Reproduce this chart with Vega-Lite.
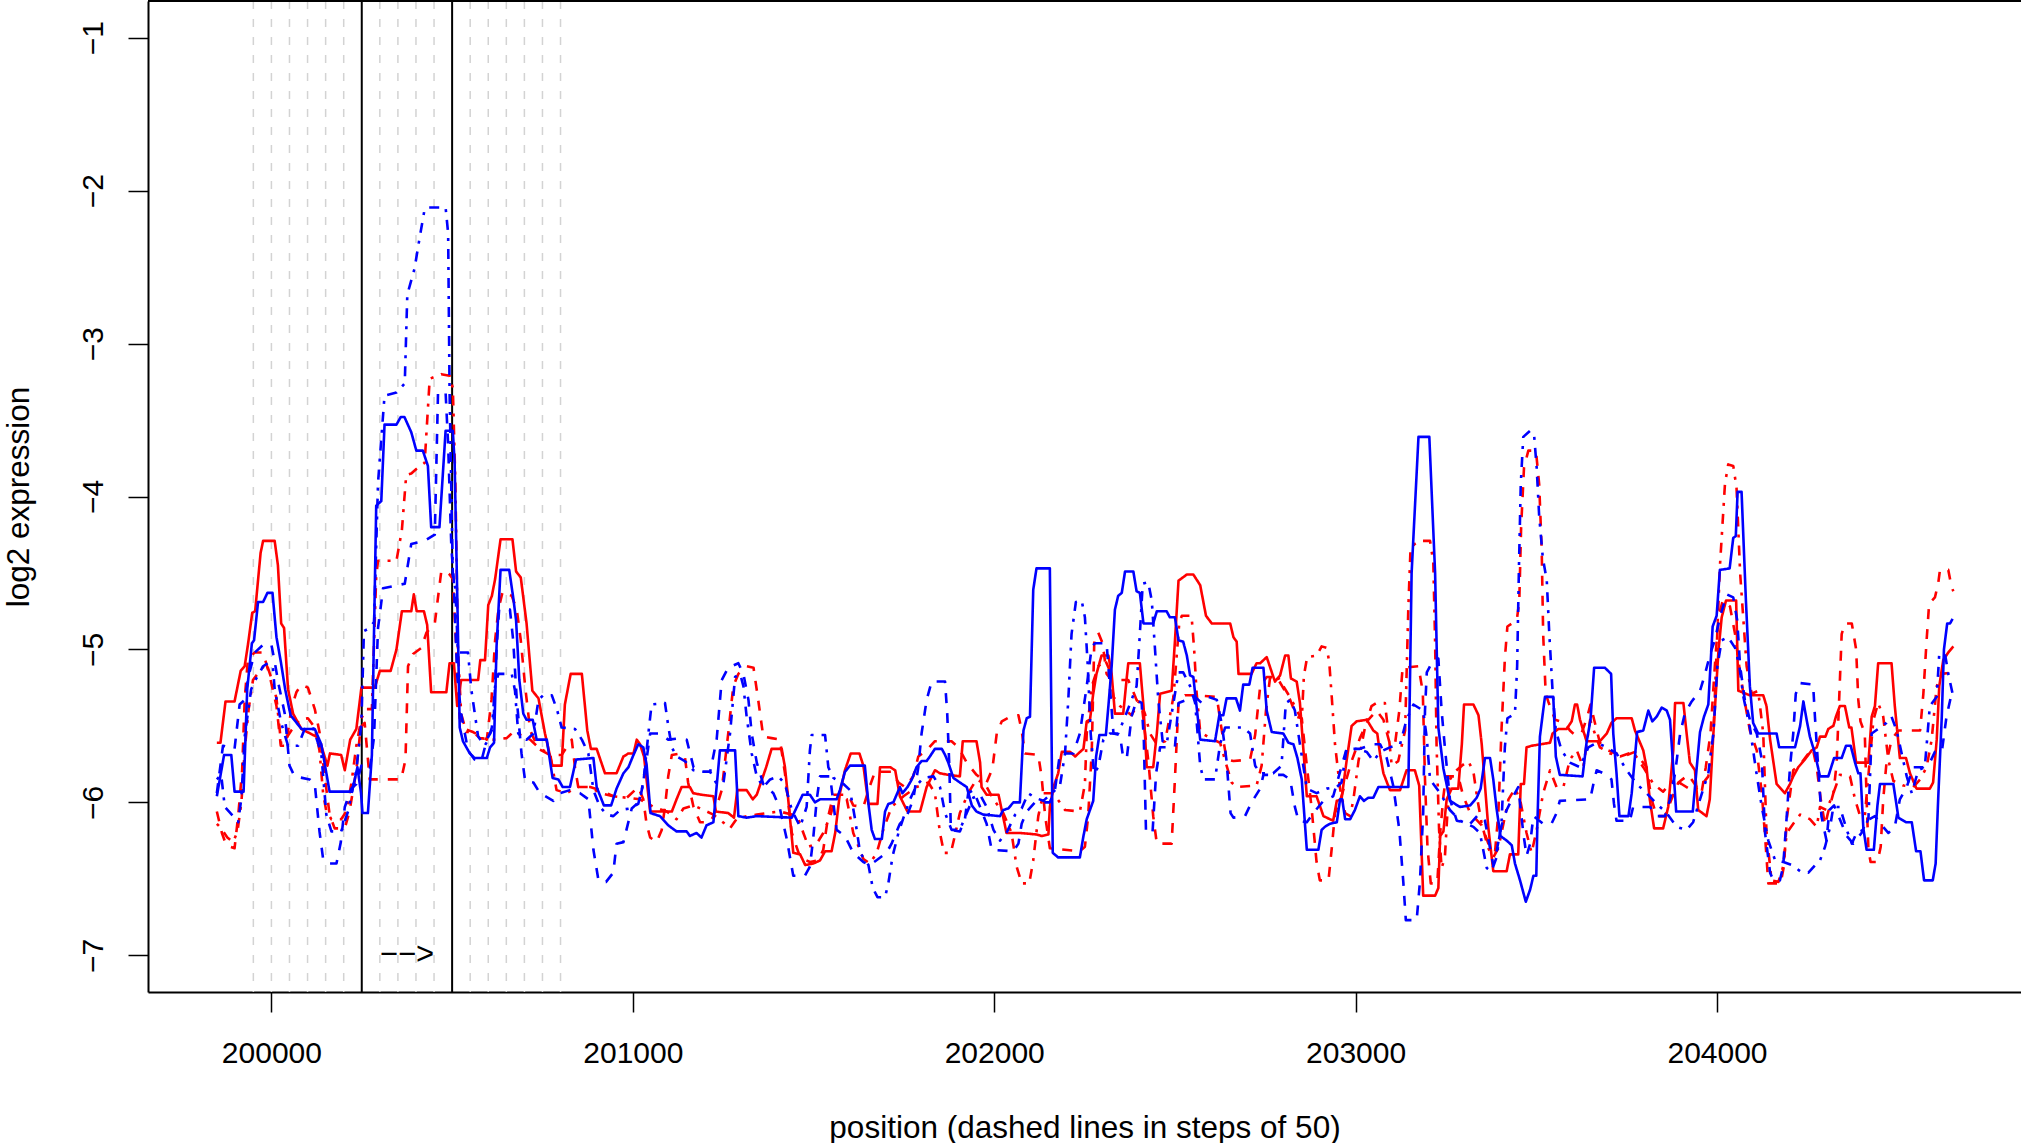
{
"$schema":"https://vega.github.io/schema/vega-lite/v6.json",
"width":1873,"height":991,
"autosize":{"type":"none"},
"padding":{"left":148,"top":1,"right":0,"bottom":151},
"background":"white",
"config":{"view":{"stroke":null},"font":"Liberation Sans",
"axis":{"grid":false,"tickSize":20,"tickWidth":1.5,"tickColor":"black","domainColor":"black","domainWidth":2,"labelFontSize":30,"labelColor":"black","labelFont":"Liberation Sans","labelFlush":false,"labelOverlap":false,"titleFontSize":31.5,"titleFontWeight":"normal","titleColor":"black","titleFont":"Liberation Sans"},
"axisX":{"labelBaseline":"alphabetic","labelPadding":50,"titleBaseline":"alphabetic","titleY":145},
"axisY":{"labelAngle":270,"labelAlign":"center","labelBaseline":"alphabetic","labelPadding":26,"titleBaseline":"alphabetic","titleAngle":270,"titleX":-120,"titleY":495.5}},
"layer":[
{"data":{"values":[{"x":199950},{"x":200000},{"x":200050},{"x":200100},{"x":200150},{"x":200200},{"x":200300},{"x":200350},{"x":200400},{"x":200450},{"x":200550},{"x":200600},{"x":200650},{"x":200700},{"x":200750},{"x":200800}]},
"mark":{"type":"rule","color":"#d3d3d3","strokeWidth":1.5,"strokeDash":[8,10]},
"encoding":{"x":{"field":"x","type":"quantitative","scale":{"domain":[199658.5,204841.2],"nice":false,"zero":false},"axis":{"values":[200000,201000,202000,203000,204000],"format":"d","title":"position (dashed lines in steps of 50)"}}}},
{"data":{"values":[{"x":200250},{"x":200500}]},
"mark":{"type":"rule","color":"black","strokeWidth":2},
"encoding":{"x":{"field":"x","type":"quantitative","scale":{"domain":[199658.5,204841.2],"nice":false,"zero":false},"axis":{"values":[200000,201000,202000,203000,204000],"format":"d","title":"position (dashed lines in steps of 50)"}}}},
{"data":{"values":[
{"s":"r1","x":199849,"y":-5.61},{"s":"r1","x":199859,"y":-5.61},{"s":"r1","x":199873,"y":-5.34},{"s":"r1","x":199898,"y":-5.34},{"s":"r1","x":199915,"y":-5.14},{"s":"r1","x":199926,"y":-5.11},{"s":"r1","x":199935,"y":-4.97},{"s":"r1","x":199947,"y":-4.76},{"s":"r1","x":199955,"y":-4.75},{"s":"r1","x":199970,"y":-4.37},{"s":"r1","x":199977,"y":-4.29},{"s":"r1","x":200009,"y":-4.29},{"s":"r1","x":200018,"y":-4.45},{"s":"r1","x":200027,"y":-4.83},{"s":"r1","x":200035,"y":-4.86},{"s":"r1","x":200046,"y":-5.26},{"s":"r1","x":200060,"y":-5.42},{"s":"r1","x":200083,"y":-5.52},{"s":"r1","x":200124,"y":-5.57},{"s":"r1","x":200138,"y":-5.63},{"s":"r1","x":200155,"y":-5.76},{"s":"r1","x":200162,"y":-5.68},{"s":"r1","x":200193,"y":-5.69},{"s":"r1","x":200203,"y":-5.79},{"s":"r1","x":200218,"y":-5.59},{"s":"r1","x":200235,"y":-5.52},{"s":"r1","x":200249,"y":-5.25},{"s":"r1","x":200286,"y":-5.25},{"s":"r1","x":200300,"y":-5.14},{"s":"r1","x":200330,"y":-5.14},{"s":"r1","x":200346,"y":-5.0},{"s":"r1","x":200361,"y":-4.75},{"s":"r1","x":200387,"y":-4.75},{"s":"r1","x":200394,"y":-4.64},{"s":"r1","x":200402,"y":-4.75},{"s":"r1","x":200422,"y":-4.75},{"s":"r1","x":200431,"y":-4.84},{"s":"r1","x":200442,"y":-5.28},{"s":"r1","x":200484,"y":-5.28},{"s":"r1","x":200493,"y":-5.09},{"s":"r1","x":200505,"y":-5.09},{"s":"r1","x":200514,"y":-5.37},{"s":"r1","x":200525,"y":-5.2},{"s":"r1","x":200572,"y":-5.2},{"s":"r1","x":200578,"y":-5.07},{"s":"r1","x":200591,"y":-5.07},{"s":"r1","x":200600,"y":-4.71},{"s":"r1","x":200610,"y":-4.65},{"s":"r1","x":200619,"y":-4.54},{"s":"r1","x":200634,"y":-4.28},{"s":"r1","x":200667,"y":-4.28},{"s":"r1","x":200677,"y":-4.49},{"s":"r1","x":200690,"y":-4.53},{"s":"r1","x":200706,"y":-4.83},{"s":"r1","x":200722,"y":-5.27},{"s":"r1","x":200739,"y":-5.32},{"s":"r1","x":200757,"y":-5.55},{"s":"r1","x":200777,"y":-5.76},{"s":"r1","x":200803,"y":-5.76},{"s":"r1","x":200812,"y":-5.36},{"s":"r1","x":200828,"y":-5.16},{"s":"r1","x":200859,"y":-5.16},{"s":"r1","x":200874,"y":-5.53},{"s":"r1","x":200884,"y":-5.65},{"s":"r1","x":200900,"y":-5.65},{"s":"r1","x":200923,"y":-5.81},{"s":"r1","x":200955,"y":-5.81},{"s":"r1","x":200974,"y":-5.7},{"s":"r1","x":200988,"y":-5.68},{"s":"r1","x":201002,"y":-5.68},{"s":"r1","x":201011,"y":-5.59},{"s":"r1","x":201020,"y":-5.62},{"s":"r1","x":201031,"y":-5.7},{"s":"r1","x":201048,"y":-6.06},{"s":"r1","x":201108,"y":-6.06},{"s":"r1","x":201121,"y":-5.98},{"s":"r1","x":201135,"y":-5.9},{"s":"r1","x":201158,"y":-5.9},{"s":"r1","x":201167,"y":-5.94},{"s":"r1","x":201190,"y":-5.95},{"s":"r1","x":201223,"y":-5.96},{"s":"r1","x":201230,"y":-6.06},{"s":"r1","x":201264,"y":-6.07},{"s":"r1","x":201280,"y":-6.1},{"s":"r1","x":201289,"y":-5.92},{"s":"r1","x":201315,"y":-5.92},{"s":"r1","x":201332,"y":-5.98},{"s":"r1","x":201343,"y":-5.95},{"s":"r1","x":201369,"y":-5.77},{"s":"r1","x":201384,"y":-5.65},{"s":"r1","x":201412,"y":-5.65},{"s":"r1","x":201421,"y":-5.77},{"s":"r1","x":201430,"y":-5.98},{"s":"r1","x":201444,"y":-6.33},{"s":"r1","x":201463,"y":-6.34},{"s":"r1","x":201477,"y":-6.41},{"s":"r1","x":201499,"y":-6.4},{"s":"r1","x":201518,"y":-6.38},{"s":"r1","x":201532,"y":-6.32},{"s":"r1","x":201550,"y":-6.32},{"s":"r1","x":201560,"y":-6.2},{"s":"r1","x":201573,"y":-5.94},{"s":"r1","x":201587,"y":-5.79},{"s":"r1","x":201603,"y":-5.68},{"s":"r1","x":201627,"y":-5.68},{"s":"r1","x":201638,"y":-5.76},{"s":"r1","x":201652,"y":-6.01},{"s":"r1","x":201677,"y":-6.01},{"s":"r1","x":201684,"y":-5.77},{"s":"r1","x":201712,"y":-5.77},{"s":"r1","x":201726,"y":-5.79},{"s":"r1","x":201739,"y":-5.96},{"s":"r1","x":201760,"y":-6.06},{"s":"r1","x":201795,"y":-6.06},{"s":"r1","x":201813,"y":-5.9},{"s":"r1","x":201836,"y":-5.79},{"s":"r1","x":201850,"y":-5.81},{"s":"r1","x":201873,"y":-5.82},{"s":"r1","x":201905,"y":-5.83},{"s":"r1","x":201913,"y":-5.6},{"s":"r1","x":201951,"y":-5.6},{"s":"r1","x":201961,"y":-5.74},{"s":"r1","x":201965,"y":-5.9},{"s":"r1","x":201979,"y":-5.95},{"s":"r1","x":202012,"y":-5.95},{"s":"r1","x":202034,"y":-6.2},{"s":"r1","x":202071,"y":-6.2},{"s":"r1","x":202117,"y":-6.21},{"s":"r1","x":202131,"y":-6.22},{"s":"r1","x":202150,"y":-6.21},{"s":"r1","x":202154,"y":-6.03},{"s":"r1","x":202164,"y":-5.9},{"s":"r1","x":202177,"y":-5.81},{"s":"r1","x":202187,"y":-5.67},{"s":"r1","x":202210,"y":-5.67},{"s":"r1","x":202224,"y":-5.7},{"s":"r1","x":202233,"y":-5.68},{"s":"r1","x":202247,"y":-5.65},{"s":"r1","x":202256,"y":-5.47},{"s":"r1","x":202265,"y":-5.46},{"s":"r1","x":202274,"y":-5.29},{"s":"r1","x":202283,"y":-5.16},{"s":"r1","x":202297,"y":-5.04},{"s":"r1","x":202316,"y":-5.04},{"s":"r1","x":202325,"y":-5.16},{"s":"r1","x":202334,"y":-5.42},{"s":"r1","x":202357,"y":-5.42},{"s":"r1","x":202367,"y":-5.18},{"s":"r1","x":202371,"y":-5.09},{"s":"r1","x":202403,"y":-5.09},{"s":"r1","x":202413,"y":-5.37},{"s":"r1","x":202422,"y":-5.77},{"s":"r1","x":202440,"y":-5.77},{"s":"r1","x":202450,"y":-5.55},{"s":"r1","x":202459,"y":-5.29},{"s":"r1","x":202491,"y":-5.27},{"s":"r1","x":202500,"y":-4.95},{"s":"r1","x":202510,"y":-4.55},{"s":"r1","x":202516,"y":-4.54},{"s":"r1","x":202533,"y":-4.51},{"s":"r1","x":202551,"y":-4.51},{"s":"r1","x":202570,"y":-4.58},{"s":"r1","x":202586,"y":-4.78},{"s":"r1","x":202602,"y":-4.83},{"s":"r1","x":202653,"y":-4.83},{"s":"r1","x":202662,"y":-4.92},{"s":"r1","x":202671,"y":-4.95},{"s":"r1","x":202676,"y":-5.16},{"s":"r1","x":202712,"y":-5.16},{"s":"r1","x":202726,"y":-5.09},{"s":"r1","x":202736,"y":-5.09},{"s":"r1","x":202754,"y":-5.05},{"s":"r1","x":202771,"y":-5.17},{"s":"r1","x":202777,"y":-5.21},{"s":"r1","x":202791,"y":-5.17},{"s":"r1","x":202805,"y":-5.04},{"s":"r1","x":202814,"y":-5.04},{"s":"r1","x":202821,"y":-5.19},{"s":"r1","x":202837,"y":-5.21},{"s":"r1","x":202846,"y":-5.35},{"s":"r1","x":202865,"y":-5.96},{"s":"r1","x":202892,"y":-5.96},{"s":"r1","x":202911,"y":-6.09},{"s":"r1","x":202938,"y":-6.12},{"s":"r1","x":202948,"y":-5.99},{"s":"r1","x":202961,"y":-5.98},{"s":"r1","x":202975,"y":-5.73},{"s":"r1","x":202989,"y":-5.5},{"s":"r1","x":203003,"y":-5.47},{"s":"r1","x":203031,"y":-5.46},{"s":"r1","x":203049,"y":-5.53},{"s":"r1","x":203060,"y":-5.55},{"s":"r1","x":203068,"y":-5.69},{"s":"r1","x":203077,"y":-5.81},{"s":"r1","x":203095,"y":-5.92},{"s":"r1","x":203123,"y":-5.92},{"s":"r1","x":203141,"y":-5.79},{"s":"r1","x":203164,"y":-5.79},{"s":"r1","x":203176,"y":-5.89},{"s":"r1","x":203187,"y":-6.61},{"s":"r1","x":203220,"y":-6.61},{"s":"r1","x":203229,"y":-6.56},{"s":"r1","x":203234,"y":-6.22},{"s":"r1","x":203243,"y":-6.19},{"s":"r1","x":203252,"y":-5.98},{"s":"r1","x":203266,"y":-5.91},{"s":"r1","x":203284,"y":-5.91},{"s":"r1","x":203294,"y":-5.62},{"s":"r1","x":203300,"y":-5.36},{"s":"r1","x":203326,"y":-5.36},{"s":"r1","x":203340,"y":-5.43},{"s":"r1","x":203349,"y":-5.62},{"s":"r1","x":203367,"y":-6.16},{"s":"r1","x":203381,"y":-6.45},{"s":"r1","x":203418,"y":-6.45},{"s":"r1","x":203427,"y":-6.34},{"s":"r1","x":203450,"y":-6.34},{"s":"r1","x":203457,"y":-5.88},{"s":"r1","x":203466,"y":-5.88},{"s":"r1","x":203473,"y":-5.64},{"s":"r1","x":203487,"y":-5.63},{"s":"r1","x":203538,"y":-5.61},{"s":"r1","x":203545,"y":-5.55},{"s":"r1","x":203561,"y":-5.52},{"s":"r1","x":203584,"y":-5.52},{"s":"r1","x":203598,"y":-5.47},{"s":"r1","x":203607,"y":-5.36},{"s":"r1","x":203613,"y":-5.36},{"s":"r1","x":203621,"y":-5.46},{"s":"r1","x":203639,"y":-5.6},{"s":"r1","x":203676,"y":-5.6},{"s":"r1","x":203695,"y":-5.55},{"s":"r1","x":203708,"y":-5.48},{"s":"r1","x":203722,"y":-5.45},{"s":"r1","x":203764,"y":-5.45},{"s":"r1","x":203773,"y":-5.53},{"s":"r1","x":203796,"y":-5.66},{"s":"r1","x":203805,"y":-5.77},{"s":"r1","x":203814,"y":-5.98},{"s":"r1","x":203826,"y":-6.17},{"s":"r1","x":203851,"y":-6.17},{"s":"r1","x":203865,"y":-6.03},{"s":"r1","x":203879,"y":-5.66},{"s":"r1","x":203884,"y":-5.35},{"s":"r1","x":203907,"y":-5.35},{"s":"r1","x":203916,"y":-5.55},{"s":"r1","x":203925,"y":-5.74},{"s":"r1","x":203939,"y":-5.79},{"s":"r1","x":203948,"y":-6.05},{"s":"r1","x":203971,"y":-6.09},{"s":"r1","x":203980,"y":-5.98},{"s":"r1","x":203990,"y":-5.55},{"s":"r1","x":204004,"y":-5.01},{"s":"r1","x":204013,"y":-4.79},{"s":"r1","x":204025,"y":-4.68},{"s":"r1","x":204053,"y":-4.68},{"s":"r1","x":204059,"y":-5.27},{"s":"r1","x":204091,"y":-5.3},{"s":"r1","x":204128,"y":-5.3},{"s":"r1","x":204137,"y":-5.37},{"s":"r1","x":204147,"y":-5.59},{"s":"r1","x":204165,"y":-5.88},{"s":"r1","x":204188,"y":-5.94},{"s":"r1","x":204202,"y":-5.88},{"s":"r1","x":204211,"y":-5.83},{"s":"r1","x":204225,"y":-5.77},{"s":"r1","x":204243,"y":-5.72},{"s":"r1","x":204262,"y":-5.66},{"s":"r1","x":204276,"y":-5.64},{"s":"r1","x":204285,"y":-5.57},{"s":"r1","x":204300,"y":-5.57},{"s":"r1","x":204308,"y":-5.52},{"s":"r1","x":204322,"y":-5.5},{"s":"r1","x":204329,"y":-5.44},{"s":"r1","x":204340,"y":-5.37},{"s":"r1","x":204354,"y":-5.37},{"s":"r1","x":204366,"y":-5.51},{"s":"r1","x":204372,"y":-5.51},{"s":"r1","x":204385,"y":-5.74},{"s":"r1","x":204419,"y":-5.74},{"s":"r1","x":204428,"y":-5.44},{"s":"r1","x":204437,"y":-5.37},{"s":"r1","x":204446,"y":-5.09},{"s":"r1","x":204483,"y":-5.09},{"s":"r1","x":204492,"y":-5.37},{"s":"r1","x":204506,"y":-5.71},{"s":"r1","x":204523,"y":-5.71},{"s":"r1","x":204534,"y":-5.81},{"s":"r1","x":204552,"y":-5.91},{"s":"r1","x":204589,"y":-5.91},{"s":"r1","x":204598,"y":-5.87},{"s":"r1","x":204608,"y":-5.59},{"s":"r1","x":204615,"y":-5.24},{"s":"r1","x":204626,"y":-5.07},{"s":"r1","x":204640,"y":-5.02},{"s":"r1","x":204654,"y":-4.98},
{"s":"r2","x":199849,"y":-6.06},{"s":"r2","x":199863,"y":-6.2},{"s":"r2","x":199875,"y":-6.28},{"s":"r2","x":199898,"y":-6.3},{"s":"r2","x":199908,"y":-6.09},{"s":"r2","x":199919,"y":-5.79},{"s":"r2","x":199926,"y":-5.33},{"s":"r2","x":199935,"y":-5.06},{"s":"r2","x":199954,"y":-5.02},{"s":"r2","x":199977,"y":-5.02},{"s":"r2","x":199995,"y":-5.17},{"s":"r2","x":200014,"y":-5.37},{"s":"r2","x":200026,"y":-5.63},{"s":"r2","x":200040,"y":-5.63},{"s":"r2","x":200055,"y":-5.39},{"s":"r2","x":200069,"y":-5.28},{"s":"r2","x":200083,"y":-5.23},{"s":"r2","x":200101,"y":-5.25},{"s":"r2","x":200120,"y":-5.39},{"s":"r2","x":200133,"y":-5.54},{"s":"r2","x":200147,"y":-5.82},{"s":"r2","x":200161,"y":-6.08},{"s":"r2","x":200175,"y":-6.17},{"s":"r2","x":200203,"y":-6.17},{"s":"r2","x":200216,"y":-6.06},{"s":"r2","x":200235,"y":-5.79},{"s":"r2","x":200247,"y":-5.51},{"s":"r2","x":200258,"y":-5.48},{"s":"r2","x":200272,"y":-5.85},{"s":"r2","x":200359,"y":-5.85},{"s":"r2","x":200371,"y":-5.72},{"s":"r2","x":200378,"y":-5.11},{"s":"r2","x":200392,"y":-5.03},{"s":"r2","x":200415,"y":-4.99},{"s":"r2","x":200429,"y":-4.89},{"s":"r2","x":200452,"y":-4.83},{"s":"r2","x":200470,"y":-4.49},{"s":"r2","x":200484,"y":-4.49},{"s":"r2","x":200493,"y":-4.51},{"s":"r2","x":200502,"y":-4.54},{"s":"r2","x":200512,"y":-5.02},{"s":"r2","x":200521,"y":-5.45},{"s":"r2","x":200535,"y":-5.52},{"s":"r2","x":200558,"y":-5.54},{"s":"r2","x":200581,"y":-5.57},{"s":"r2","x":200596,"y":-5.59},{"s":"r2","x":200609,"y":-5.33},{"s":"r2","x":200619,"y":-4.94},{"s":"r2","x":200628,"y":-4.74},{"s":"r2","x":200640,"y":-4.62},{"s":"r2","x":200665,"y":-4.65},{"s":"r2","x":200679,"y":-4.74},{"s":"r2","x":200690,"y":-4.94},{"s":"r2","x":200702,"y":-5.24},{"s":"r2","x":200716,"y":-5.53},{"s":"r2","x":200739,"y":-5.65},{"s":"r2","x":200771,"y":-5.69},{"s":"r2","x":200803,"y":-5.69},{"s":"r2","x":200817,"y":-5.64},{"s":"r2","x":200831,"y":-5.59},{"s":"r2","x":200840,"y":-5.77},{"s":"r2","x":200849,"y":-5.9},{"s":"r2","x":200882,"y":-5.9},{"s":"r2","x":200909,"y":-5.92},{"s":"r2","x":200946,"y":-5.96},{"s":"r2","x":200983,"y":-5.97},{"s":"r2","x":201015,"y":-5.9},{"s":"r2","x":201029,"y":-5.98},{"s":"r2","x":201038,"y":-6.14},{"s":"r2","x":201048,"y":-6.23},{"s":"r2","x":201066,"y":-6.26},{"s":"r2","x":201080,"y":-6.18},{"s":"r2","x":201089,"y":-6.03},{"s":"r2","x":201098,"y":-5.83},{"s":"r2","x":201108,"y":-5.69},{"s":"r2","x":201131,"y":-5.68},{"s":"r2","x":201144,"y":-5.7},{"s":"r2","x":201153,"y":-5.87},{"s":"r2","x":201168,"y":-6.03},{"s":"r2","x":201186,"y":-6.13},{"s":"r2","x":201214,"y":-6.13},{"s":"r2","x":201223,"y":-6.09},{"s":"r2","x":201232,"y":-6.03},{"s":"r2","x":201246,"y":-5.92},{"s":"r2","x":201264,"y":-5.55},{"s":"r2","x":201278,"y":-5.24},{"s":"r2","x":201292,"y":-5.16},{"s":"r2","x":201315,"y":-5.11},{"s":"r2","x":201334,"y":-5.12},{"s":"r2","x":201347,"y":-5.33},{"s":"r2","x":201361,"y":-5.57},{"s":"r2","x":201384,"y":-5.58},{"s":"r2","x":201407,"y":-5.59},{"s":"r2","x":201421,"y":-5.81},{"s":"r2","x":201440,"y":-6.2},{"s":"r2","x":201463,"y":-6.36},{"s":"r2","x":201490,"y":-6.39},{"s":"r2","x":201513,"y":-6.38},{"s":"r2","x":201527,"y":-6.31},{"s":"r2","x":201540,"y":-6.1},{"s":"r2","x":201555,"y":-5.95},{"s":"r2","x":201596,"y":-5.95},{"s":"r2","x":201610,"y":-6.02},{"s":"r2","x":201638,"y":-6.03},{"s":"r2","x":201652,"y":-5.92},{"s":"r2","x":201670,"y":-5.8},{"s":"r2","x":201716,"y":-5.8},{"s":"r2","x":201735,"y":-5.87},{"s":"r2","x":201753,"y":-5.9},{"s":"r2","x":201776,"y":-5.83},{"s":"r2","x":201790,"y":-5.7},{"s":"r2","x":201813,"y":-5.66},{"s":"r2","x":201836,"y":-5.6},{"s":"r2","x":201882,"y":-5.6},{"s":"r2","x":201901,"y":-5.64},{"s":"r2","x":201924,"y":-5.74},{"s":"r2","x":201951,"y":-5.82},{"s":"r2","x":201979,"y":-5.87},{"s":"r2","x":201995,"y":-5.78},{"s":"r2","x":202007,"y":-5.55},{"s":"r2","x":202021,"y":-5.47},{"s":"r2","x":202044,"y":-5.44},{"s":"r2","x":202067,"y":-5.43},{"s":"r2","x":202076,"y":-5.53},{"s":"r2","x":202085,"y":-5.68},{"s":"r2","x":202122,"y":-5.69},{"s":"r2","x":202131,"y":-5.83},{"s":"r2","x":202141,"y":-6.09},{"s":"r2","x":202154,"y":-6.3},{"s":"r2","x":202237,"y":-6.32},{"s":"r2","x":202251,"y":-6.29},{"s":"r2","x":202260,"y":-6.09},{"s":"r2","x":202270,"y":-5.66},{"s":"r2","x":202277,"y":-4.94},{"s":"r2","x":202288,"y":-4.89},{"s":"r2","x":202300,"y":-4.96},{"s":"r2","x":202311,"y":-5.16},{"s":"r2","x":202325,"y":-5.2},{"s":"r2","x":202371,"y":-5.2},{"s":"r2","x":202394,"y":-5.33},{"s":"r2","x":202410,"y":-5.4},{"s":"r2","x":202427,"y":-5.74},{"s":"r2","x":202440,"y":-6.09},{"s":"r2","x":202450,"y":-6.27},{"s":"r2","x":202491,"y":-6.27},{"s":"r2","x":202500,"y":-5.85},{"s":"r2","x":202510,"y":-5.35},{"s":"r2","x":202528,"y":-5.3},{"s":"r2","x":202556,"y":-5.3},{"s":"r2","x":202616,"y":-5.31},{"s":"r2","x":202627,"y":-5.49},{"s":"r2","x":202643,"y":-5.72},{"s":"r2","x":202662,"y":-5.73},{"s":"r2","x":202708,"y":-5.72},{"s":"r2","x":202722,"y":-5.56},{"s":"r2","x":202736,"y":-5.24},{"s":"r2","x":202754,"y":-5.18},{"s":"r2","x":202782,"y":-5.18},{"s":"r2","x":202819,"y":-5.33},{"s":"r2","x":202837,"y":-5.44},{"s":"r2","x":202851,"y":-5.45},{"s":"r2","x":202865,"y":-5.76},{"s":"r2","x":202878,"y":-6.03},{"s":"r2","x":202892,"y":-6.39},{"s":"r2","x":202901,"y":-6.51},{"s":"r2","x":202925,"y":-6.51},{"s":"r2","x":202934,"y":-6.3},{"s":"r2","x":202943,"y":-6.07},{"s":"r2","x":202961,"y":-5.96},{"s":"r2","x":202989,"y":-5.73},{"s":"r2","x":203012,"y":-5.58},{"s":"r2","x":203035,"y":-5.46},{"s":"r2","x":203058,"y":-5.4},{"s":"r2","x":203077,"y":-5.46},{"s":"r2","x":203095,"y":-5.62},{"s":"r2","x":203109,"y":-5.62},{"s":"r2","x":203121,"y":-5.4},{"s":"r2","x":203130,"y":-5.12},{"s":"r2","x":203174,"y":-5.11},{"s":"r2","x":203186,"y":-5.28},{"s":"r2","x":203192,"y":-5.85},{"s":"r2","x":203199,"y":-6.3},{"s":"r2","x":203208,"y":-6.53},{"s":"r2","x":203226,"y":-6.53},{"s":"r2","x":203234,"y":-6.2},{"s":"r2","x":203243,"y":-5.96},{"s":"r2","x":203250,"y":-5.83},{"s":"r2","x":203284,"y":-5.83},{"s":"r2","x":203298,"y":-5.96},{"s":"r2","x":203317,"y":-6.07},{"s":"r2","x":203349,"y":-6.15},{"s":"r2","x":203372,"y":-6.3},{"s":"r2","x":203386,"y":-6.32},{"s":"r2","x":203395,"y":-6.07},{"s":"r2","x":203404,"y":-5.51},{"s":"r2","x":203413,"y":-5.06},{"s":"r2","x":203420,"y":-4.85},{"s":"r2","x":203446,"y":-4.81},{"s":"r2","x":203453,"y":-4.68},{"s":"r2","x":203458,"y":-4.2},{"s":"r2","x":203466,"y":-3.81},{"s":"r2","x":203478,"y":-3.7},{"s":"r2","x":203499,"y":-3.7},{"s":"r2","x":203508,"y":-3.92},{"s":"r2","x":203515,"y":-4.35},{"s":"r2","x":203519,"y":-4.9},{"s":"r2","x":203526,"y":-5.29},{"s":"r2","x":203533,"y":-5.34},{"s":"r2","x":203552,"y":-5.46},{"s":"r2","x":203579,"y":-5.48},{"s":"r2","x":203593,"y":-5.53},{"s":"r2","x":203607,"y":-5.56},{"s":"r2","x":203625,"y":-5.55},{"s":"r2","x":203641,"y":-5.44},{"s":"r2","x":203650,"y":-5.36},{"s":"r2","x":203660,"y":-5.46},{"s":"r2","x":203676,"y":-5.61},{"s":"r2","x":203699,"y":-5.66},{"s":"r2","x":203741,"y":-5.7},{"s":"r2","x":203773,"y":-5.67},{"s":"r2","x":203805,"y":-5.77},{"s":"r2","x":203819,"y":-5.98},{"s":"r2","x":203833,"y":-6.09},{"s":"r2","x":203856,"y":-6.09},{"s":"r2","x":203874,"y":-5.98},{"s":"r2","x":203893,"y":-5.87},{"s":"r2","x":203921,"y":-5.82},{"s":"r2","x":203944,"y":-5.9},{"s":"r2","x":203957,"y":-5.94},{"s":"r2","x":203969,"y":-5.77},{"s":"r2","x":203982,"y":-5.55},{"s":"r2","x":203994,"y":-5.11},{"s":"r2","x":204004,"y":-4.79},{"s":"r2","x":204016,"y":-4.68},{"s":"r2","x":204036,"y":-4.72},{"s":"r2","x":204050,"y":-4.9},{"s":"r2","x":204059,"y":-5.07},{"s":"r2","x":204073,"y":-5.29},{"s":"r2","x":204091,"y":-5.53},{"s":"r2","x":204110,"y":-5.66},{"s":"r2","x":204124,"y":-5.94},{"s":"r2","x":204133,"y":-6.22},{"s":"r2","x":204142,"y":-6.53},{"s":"r2","x":204176,"y":-6.53},{"s":"r2","x":204185,"y":-6.42},{"s":"r2","x":204194,"y":-6.09},{"s":"r2","x":204211,"y":-5.79},{"s":"r2","x":204234,"y":-5.74},{"s":"r2","x":204253,"y":-5.68},{"s":"r2","x":204265,"y":-5.65},{"s":"r2","x":204276,"y":-5.77},{"s":"r2","x":204287,"y":-5.98},{"s":"r2","x":204299,"y":-6.15},{"s":"r2","x":204308,"y":-6.06},{"s":"r2","x":204322,"y":-5.94},{"s":"r2","x":204331,"y":-5.75},{"s":"r2","x":204338,"y":-5.33},{"s":"r2","x":204345,"y":-4.9},{"s":"r2","x":204354,"y":-4.83},{"s":"r2","x":204373,"y":-4.83},{"s":"r2","x":204385,"y":-5.0},{"s":"r2","x":204391,"y":-5.33},{"s":"r2","x":204397,"y":-5.47},{"s":"r2","x":204409,"y":-5.55},{"s":"r2","x":204414,"y":-5.98},{"s":"r2","x":204419,"y":-6.31},{"s":"r2","x":204425,"y":-6.39},{"s":"r2","x":204444,"y":-6.39},{"s":"r2","x":204453,"y":-6.29},{"s":"r2","x":204460,"y":-5.98},{"s":"r2","x":204469,"y":-5.74},{"s":"r2","x":204483,"y":-5.59},{"s":"r2","x":204502,"y":-5.53},{"s":"r2","x":204562,"y":-5.53},{"s":"r2","x":204571,"y":-5.29},{"s":"r2","x":204580,"y":-4.94},{"s":"r2","x":204587,"y":-4.7},{"s":"r2","x":204603,"y":-4.66},{"s":"r2","x":204612,"y":-4.57},{"s":"r2","x":204617,"y":-4.48},{"s":"r2","x":204640,"y":-4.48},{"s":"r2","x":204649,"y":-4.59},{"s":"r2","x":204654,"y":-4.62},
{"s":"r3","x":199849,"y":-6.14},{"s":"r3","x":199861,"y":-6.17},{"s":"r3","x":199878,"y":-6.23},{"s":"r3","x":199894,"y":-6.26},{"s":"r3","x":199906,"y":-6.19},{"s":"r3","x":199917,"y":-6.0},{"s":"r3","x":199926,"y":-5.66},{"s":"r3","x":199937,"y":-5.39},{"s":"r3","x":199949,"y":-5.2},{"s":"r3","x":199968,"y":-5.14},{"s":"r3","x":199986,"y":-5.09},{"s":"r3","x":200000,"y":-5.19},{"s":"r3","x":200014,"y":-5.32},{"s":"r3","x":200027,"y":-5.62},{"s":"r3","x":200041,"y":-5.58},{"s":"r3","x":200055,"y":-5.53},{"s":"r3","x":200078,"y":-5.46},{"s":"r3","x":200101,"y":-5.45},{"s":"r3","x":200120,"y":-5.51},{"s":"r3","x":200133,"y":-5.66},{"s":"r3","x":200143,"y":-5.94},{"s":"r3","x":200152,"y":-6.06},{"s":"r3","x":200166,"y":-6.11},{"s":"r3","x":200193,"y":-6.11},{"s":"r3","x":200207,"y":-6.06},{"s":"r3","x":200221,"y":-5.88},{"s":"r3","x":200235,"y":-5.63},{"s":"r3","x":200249,"y":-5.45},{"s":"r3","x":200263,"y":-5.39},{"s":"r3","x":200278,"y":-5.39},{"s":"r3","x":200290,"y":-4.52},{"s":"r3","x":200295,"y":-4.42},{"s":"r3","x":200346,"y":-4.42},{"s":"r3","x":200361,"y":-4.22},{"s":"r3","x":200373,"y":-3.86},{"s":"r3","x":200387,"y":-3.85},{"s":"r3","x":200401,"y":-3.82},{"s":"r3","x":200424,"y":-3.78},{"s":"r3","x":200438,"y":-3.23},{"s":"r3","x":200470,"y":-3.2},{"s":"r3","x":200493,"y":-3.21},{"s":"r3","x":200502,"y":-3.29},{"s":"r3","x":200509,"y":-3.91},{"s":"r3","x":200516,"y":-4.99},{"s":"r3","x":200525,"y":-5.42},{"s":"r3","x":200539,"y":-5.54},{"s":"r3","x":200558,"y":-5.54},{"s":"r3","x":200577,"y":-5.58},{"s":"r3","x":200614,"y":-5.59},{"s":"r3","x":200651,"y":-5.58},{"s":"r3","x":200669,"y":-5.54},{"s":"r3","x":200690,"y":-5.56},{"s":"r3","x":200716,"y":-5.59},{"s":"r3","x":200743,"y":-5.65},{"s":"r3","x":200771,"y":-5.68},{"s":"r3","x":200789,"y":-5.92},{"s":"r3","x":200817,"y":-5.94},{"s":"r3","x":200845,"y":-5.9},{"s":"r3","x":200882,"y":-5.9},{"s":"r3","x":200910,"y":-5.94},{"s":"r3","x":200946,"y":-5.96},{"s":"r3","x":200983,"y":-5.97},{"s":"r3","x":201020,"y":-5.98},{"s":"r3","x":201057,"y":-6.03},{"s":"r3","x":201094,"y":-6.06},{"s":"r3","x":201121,"y":-6.11},{"s":"r3","x":201140,"y":-6.04},{"s":"r3","x":201168,"y":-6.02},{"s":"r3","x":201223,"y":-6.08},{"s":"r3","x":201260,"y":-6.15},{"s":"r3","x":201269,"y":-6.17},{"s":"r3","x":201287,"y":-6.11},{"s":"r3","x":201315,"y":-6.09},{"s":"r3","x":201343,"y":-6.08},{"s":"r3","x":201370,"y":-6.07},{"s":"r3","x":201407,"y":-6.06},{"s":"r3","x":201440,"y":-6.08},{"s":"r3","x":201458,"y":-6.11},{"s":"r3","x":201472,"y":-6.2},{"s":"r3","x":201486,"y":-6.29},{"s":"r3","x":201509,"y":-6.27},{"s":"r3","x":201527,"y":-6.2},{"s":"r3","x":201546,"y":-6.09},{"s":"r3","x":201560,"y":-5.98},{"s":"r3","x":201573,"y":-5.96},{"s":"r3","x":201592,"y":-5.98},{"s":"r3","x":201610,"y":-6.2},{"s":"r3","x":201638,"y":-6.37},{"s":"r3","x":201656,"y":-6.4},{"s":"r3","x":201675,"y":-6.33},{"s":"r3","x":201693,"y":-6.18},{"s":"r3","x":201716,"y":-6.03},{"s":"r3","x":201749,"y":-5.96},{"s":"r3","x":201785,"y":-5.9},{"s":"r3","x":201818,"y":-5.87},{"s":"r3","x":201836,"y":-5.94},{"s":"r3","x":201850,"y":-6.2},{"s":"r3","x":201861,"y":-6.33},{"s":"r3","x":201880,"y":-6.33},{"s":"r3","x":201892,"y":-6.21},{"s":"r3","x":201905,"y":-6.07},{"s":"r3","x":201928,"y":-5.94},{"s":"r3","x":201951,"y":-5.85},{"s":"r3","x":201975,"y":-5.88},{"s":"r3","x":201998,"y":-5.98},{"s":"r3","x":202025,"y":-6.07},{"s":"r3","x":202048,"y":-6.2},{"s":"r3","x":202062,"y":-6.42},{"s":"r3","x":202076,"y":-6.53},{"s":"r3","x":202097,"y":-6.53},{"s":"r3","x":202108,"y":-6.38},{"s":"r3","x":202122,"y":-6.09},{"s":"r3","x":202136,"y":-5.94},{"s":"r3","x":202164,"y":-5.94},{"s":"r3","x":202196,"y":-6.05},{"s":"r3","x":202237,"y":-6.06},{"s":"r3","x":202251,"y":-5.88},{"s":"r3","x":202256,"y":-5.55},{"s":"r3","x":202270,"y":-5.24},{"s":"r3","x":202288,"y":-5.11},{"s":"r3","x":202307,"y":-5.07},{"s":"r3","x":202320,"y":-5.14},{"s":"r3","x":202330,"y":-5.31},{"s":"r3","x":202348,"y":-5.37},{"s":"r3","x":202380,"y":-5.43},{"s":"r3","x":202403,"y":-5.33},{"s":"r3","x":202417,"y":-5.42},{"s":"r3","x":202431,"y":-5.55},{"s":"r3","x":202450,"y":-5.62},{"s":"r3","x":202473,"y":-5.6},{"s":"r3","x":202496,"y":-5.31},{"s":"r3","x":202512,"y":-4.83},{"s":"r3","x":202519,"y":-4.78},{"s":"r3","x":202546,"y":-4.78},{"s":"r3","x":202553,"y":-4.99},{"s":"r3","x":202560,"y":-5.28},{"s":"r3","x":202570,"y":-5.54},{"s":"r3","x":202597,"y":-5.58},{"s":"r3","x":202625,"y":-5.61},{"s":"r3","x":202643,"y":-5.76},{"s":"r3","x":202657,"y":-5.87},{"s":"r3","x":202671,"y":-5.9},{"s":"r3","x":202726,"y":-5.89},{"s":"r3","x":202740,"y":-5.76},{"s":"r3","x":202752,"y":-5.4},{"s":"r3","x":202763,"y":-5.19},{"s":"r3","x":202782,"y":-5.17},{"s":"r3","x":202800,"y":-5.24},{"s":"r3","x":202823,"y":-5.33},{"s":"r3","x":202842,"y":-5.42},{"s":"r3","x":202851,"y":-5.46},{"s":"r3","x":202857,"y":-5.17},{"s":"r3","x":202866,"y":-5.05},{"s":"r3","x":202892,"y":-5.04},{"s":"r3","x":202906,"y":-4.98},{"s":"r3","x":202920,"y":-4.99},{"s":"r3","x":202927,"y":-5.08},{"s":"r3","x":202934,"y":-5.31},{"s":"r3","x":202943,"y":-5.62},{"s":"r3","x":202957,"y":-5.91},{"s":"r3","x":202971,"y":-6.07},{"s":"r3","x":202985,"y":-6.09},{"s":"r3","x":202994,"y":-5.98},{"s":"r3","x":203008,"y":-5.73},{"s":"r3","x":203026,"y":-5.51},{"s":"r3","x":203044,"y":-5.37},{"s":"r3","x":203058,"y":-5.35},{"s":"r3","x":203081,"y":-5.35},{"s":"r3","x":203091,"y":-5.55},{"s":"r3","x":203100,"y":-5.76},{"s":"r3","x":203118,"y":-5.73},{"s":"r3","x":203137,"y":-5.53},{"s":"r3","x":203146,"y":-4.72},{"s":"r3","x":203152,"y":-4.34},{"s":"r3","x":203164,"y":-4.31},{"s":"r3","x":203178,"y":-4.29},{"s":"r3","x":203206,"y":-4.29},{"s":"r3","x":203215,"y":-4.43},{"s":"r3","x":203220,"y":-4.95},{"s":"r3","x":203224,"y":-5.62},{"s":"r3","x":203231,"y":-6.18},{"s":"r3","x":203238,"y":-6.43},{"s":"r3","x":203247,"y":-6.36},{"s":"r3","x":203254,"y":-6.07},{"s":"r3","x":203261,"y":-5.85},{"s":"r3","x":203275,"y":-5.8},{"s":"r3","x":203294,"y":-5.76},{"s":"r3","x":203312,"y":-5.73},{"s":"r3","x":203326,"y":-5.8},{"s":"r3","x":203337,"y":-5.98},{"s":"r3","x":203349,"y":-6.14},{"s":"r3","x":203367,"y":-6.3},{"s":"r3","x":203381,"y":-6.36},{"s":"r3","x":203395,"y":-6.3},{"s":"r3","x":203409,"y":-6.14},{"s":"r3","x":203423,"y":-5.98},{"s":"r3","x":203441,"y":-5.91},{"s":"r3","x":203455,"y":-5.98},{"s":"r3","x":203473,"y":-6.2},{"s":"r3","x":203487,"y":-6.33},{"s":"r3","x":203501,"y":-6.18},{"s":"r3","x":203519,"y":-5.94},{"s":"r3","x":203538,"y":-5.79},{"s":"r3","x":203556,"y":-5.9},{"s":"r3","x":203575,"y":-5.9},{"s":"r3","x":203593,"y":-5.72},{"s":"r3","x":203612,"y":-5.66},{"s":"r3","x":203630,"y":-5.77},{"s":"r3","x":203649,"y":-5.46},{"s":"r3","x":203662,"y":-5.55},{"s":"r3","x":203676,"y":-5.64},{"s":"r3","x":203704,"y":-5.68},{"s":"r3","x":203732,"y":-5.7},{"s":"r3","x":203768,"y":-5.67},{"s":"r3","x":203796,"y":-5.77},{"s":"r3","x":203824,"y":-5.88},{"s":"r3","x":203851,"y":-5.93},{"s":"r3","x":203879,"y":-5.85},{"s":"r3","x":203902,"y":-5.88},{"s":"r3","x":203930,"y":-5.92},{"s":"r3","x":203953,"y":-5.9},{"s":"r3","x":203976,"y":-5.83},{"s":"r3","x":203990,"y":-5.55},{"s":"r3","x":204008,"y":-4.46},{"s":"r3","x":204022,"y":-3.92},{"s":"r3","x":204031,"y":-3.79},{"s":"r3","x":204045,"y":-3.8},{"s":"r3","x":204054,"y":-3.94},{"s":"r3","x":204064,"y":-4.5},{"s":"r3","x":204082,"y":-5.11},{"s":"r3","x":204096,"y":-5.29},{"s":"r3","x":204114,"y":-5.27},{"s":"r3","x":204128,"y":-5.55},{"s":"r3","x":204137,"y":-6.2},{"s":"r3","x":204151,"y":-6.51},{"s":"r3","x":204170,"y":-6.52},{"s":"r3","x":204183,"y":-6.42},{"s":"r3","x":204193,"y":-6.2},{"s":"r3","x":204211,"y":-6.14},{"s":"r3","x":204230,"y":-6.08},{"s":"r3","x":204257,"y":-6.11},{"s":"r3","x":204276,"y":-6.16},{"s":"r3","x":204285,"y":-6.03},{"s":"r3","x":204303,"y":-6.05},{"s":"r3","x":204322,"y":-5.94},{"s":"r3","x":204340,"y":-5.82},{"s":"r3","x":204368,"y":-5.83},{"s":"r3","x":204382,"y":-5.98},{"s":"r3","x":204396,"y":-6.09},{"s":"r3","x":204409,"y":-6.09},{"s":"r3","x":204421,"y":-5.77},{"s":"r3","x":204433,"y":-5.46},{"s":"r3","x":204446,"y":-5.35},{"s":"r3","x":204460,"y":-5.44},{"s":"r3","x":204474,"y":-5.72},{"s":"r3","x":204488,"y":-5.86},{"s":"r3","x":204516,"y":-5.89},{"s":"r3","x":204543,"y":-5.9},{"s":"r3","x":204562,"y":-5.85},{"s":"r3","x":204580,"y":-5.77},{"s":"r3","x":204594,"y":-5.59},{"s":"r3","x":204608,"y":-5.24},{"s":"r3","x":204622,"y":-5.16},{"s":"r3","x":204652,"y":-5.15},
{"s":"b1","x":199849,"y":-5.96},{"s":"b1","x":199869,"y":-5.69},{"s":"b1","x":199889,"y":-5.69},{"s":"b1","x":199898,"y":-5.93},{"s":"b1","x":199923,"y":-5.93},{"s":"b1","x":199933,"y":-5.26},{"s":"b1","x":199946,"y":-4.96},{"s":"b1","x":199952,"y":-4.94},{"s":"b1","x":199963,"y":-4.69},{"s":"b1","x":199977,"y":-4.69},{"s":"b1","x":199989,"y":-4.63},{"s":"b1","x":200003,"y":-4.63},{"s":"b1","x":200014,"y":-4.92},{"s":"b1","x":200026,"y":-5.08},{"s":"b1","x":200038,"y":-5.26},{"s":"b1","x":200053,"y":-5.43},{"s":"b1","x":200083,"y":-5.52},{"s":"b1","x":200120,"y":-5.52},{"s":"b1","x":200138,"y":-5.62},{"s":"b1","x":200161,"y":-5.93},{"s":"b1","x":200223,"y":-5.93},{"s":"b1","x":200238,"y":-5.77},{"s":"b1","x":200248,"y":-5.94},{"s":"b1","x":200252,"y":-6.07},{"s":"b1","x":200267,"y":-6.07},{"s":"b1","x":200278,"y":-5.69},{"s":"b1","x":200290,"y":-4.06},{"s":"b1","x":200304,"y":-4.03},{"s":"b1","x":200313,"y":-3.53},{"s":"b1","x":200346,"y":-3.53},{"s":"b1","x":200358,"y":-3.48},{"s":"b1","x":200368,"y":-3.48},{"s":"b1","x":200387,"y":-3.58},{"s":"b1","x":200401,"y":-3.7},{"s":"b1","x":200419,"y":-3.7},{"s":"b1","x":200433,"y":-3.8},{"s":"b1","x":200442,"y":-4.2},{"s":"b1","x":200465,"y":-4.2},{"s":"b1","x":200482,"y":-3.57},{"s":"b1","x":200502,"y":-3.57},{"s":"b1","x":200507,"y":-3.78},{"s":"b1","x":200514,"y":-4.62},{"s":"b1","x":200521,"y":-5.51},{"s":"b1","x":200530,"y":-5.6},{"s":"b1","x":200549,"y":-5.68},{"s":"b1","x":200562,"y":-5.71},{"s":"b1","x":200596,"y":-5.71},{"s":"b1","x":200605,"y":-5.64},{"s":"b1","x":200616,"y":-5.61},{"s":"b1","x":200623,"y":-4.98},{"s":"b1","x":200634,"y":-4.48},{"s":"b1","x":200658,"y":-4.48},{"s":"b1","x":200669,"y":-4.66},{"s":"b1","x":200677,"y":-4.81},{"s":"b1","x":200686,"y":-5.2},{"s":"b1","x":200697,"y":-5.42},{"s":"b1","x":200706,"y":-5.46},{"s":"b1","x":200723,"y":-5.46},{"s":"b1","x":200734,"y":-5.59},{"s":"b1","x":200762,"y":-5.59},{"s":"b1","x":200778,"y":-5.84},{"s":"b1","x":200794,"y":-5.85},{"s":"b1","x":200806,"y":-5.9},{"s":"b1","x":200826,"y":-5.9},{"s":"b1","x":200843,"y":-5.72},{"s":"b1","x":200891,"y":-5.71},{"s":"b1","x":200900,"y":-5.9},{"s":"b1","x":200920,"y":-6.02},{"s":"b1","x":200940,"y":-6.02},{"s":"b1","x":200955,"y":-5.91},{"s":"b1","x":200974,"y":-5.81},{"s":"b1","x":200988,"y":-5.77},{"s":"b1","x":201000,"y":-5.7},{"s":"b1","x":201015,"y":-5.62},{"s":"b1","x":201029,"y":-5.64},{"s":"b1","x":201038,"y":-5.75},{"s":"b1","x":201049,"y":-6.07},{"s":"b1","x":201075,"y":-6.09},{"s":"b1","x":201098,"y":-6.15},{"s":"b1","x":201121,"y":-6.19},{"s":"b1","x":201149,"y":-6.19},{"s":"b1","x":201158,"y":-6.22},{"s":"b1","x":201176,"y":-6.2},{"s":"b1","x":201190,"y":-6.23},{"s":"b1","x":201204,"y":-6.15},{"s":"b1","x":201223,"y":-6.13},{"s":"b1","x":201241,"y":-5.66},{"s":"b1","x":201283,"y":-5.66},{"s":"b1","x":201292,"y":-6.09},{"s":"b1","x":201315,"y":-6.1},{"s":"b1","x":201343,"y":-6.09},{"s":"b1","x":201440,"y":-6.1},{"s":"b1","x":201470,"y":-5.95},{"s":"b1","x":201490,"y":-5.95},{"s":"b1","x":201504,"y":-6.0},{"s":"b1","x":201518,"y":-5.98},{"s":"b1","x":201564,"y":-5.98},{"s":"b1","x":201573,"y":-5.92},{"s":"b1","x":201587,"y":-5.8},{"s":"b1","x":201601,"y":-5.76},{"s":"b1","x":201642,"y":-5.76},{"s":"b1","x":201652,"y":-6.01},{"s":"b1","x":201661,"y":-6.18},{"s":"b1","x":201670,"y":-6.24},{"s":"b1","x":201689,"y":-6.24},{"s":"b1","x":201698,"y":-6.06},{"s":"b1","x":201707,"y":-6.01},{"s":"b1","x":201721,"y":-6.0},{"s":"b1","x":201739,"y":-5.9},{"s":"b1","x":201746,"y":-5.94},{"s":"b1","x":201760,"y":-5.9},{"s":"b1","x":201772,"y":-5.85},{"s":"b1","x":201785,"y":-5.77},{"s":"b1","x":201799,"y":-5.73},{"s":"b1","x":201813,"y":-5.73},{"s":"b1","x":201822,"y":-5.7},{"s":"b1","x":201836,"y":-5.65},{"s":"b1","x":201855,"y":-5.65},{"s":"b1","x":201864,"y":-5.69},{"s":"b1","x":201873,"y":-5.74},{"s":"b1","x":201887,"y":-5.84},{"s":"b1","x":201905,"y":-5.87},{"s":"b1","x":201924,"y":-5.9},{"s":"b1","x":201938,"y":-6.02},{"s":"b1","x":201951,"y":-6.06},{"s":"b1","x":201970,"y":-6.08},{"s":"b1","x":202016,"y":-6.09},{"s":"b1","x":202025,"y":-6.05},{"s":"b1","x":202039,"y":-6.04},{"s":"b1","x":202053,"y":-6.0},{"s":"b1","x":202071,"y":-6.0},{"s":"b1","x":202081,"y":-5.53},{"s":"b1","x":202090,"y":-5.45},{"s":"b1","x":202099,"y":-5.44},{"s":"b1","x":202108,"y":-4.61},{"s":"b1","x":202117,"y":-4.47},{"s":"b1","x":202154,"y":-4.47},{"s":"b1","x":202162,"y":-6.33},{"s":"b1","x":202177,"y":-6.36},{"s":"b1","x":202237,"y":-6.36},{"s":"b1","x":202247,"y":-6.22},{"s":"b1","x":202256,"y":-6.11},{"s":"b1","x":202274,"y":-5.99},{"s":"b1","x":202282,"y":-5.7},{"s":"b1","x":202291,"y":-5.56},{"s":"b1","x":202309,"y":-5.56},{"s":"b1","x":202316,"y":-5.37},{"s":"b1","x":202325,"y":-5.11},{"s":"b1","x":202334,"y":-4.74},{"s":"b1","x":202343,"y":-4.65},{"s":"b1","x":202353,"y":-4.63},{"s":"b1","x":202362,"y":-4.49},{"s":"b1","x":202385,"y":-4.49},{"s":"b1","x":202394,"y":-4.62},{"s":"b1","x":202403,"y":-4.63},{"s":"b1","x":202413,"y":-4.83},{"s":"b1","x":202440,"y":-4.83},{"s":"b1","x":202450,"y":-4.75},{"s":"b1","x":202477,"y":-4.75},{"s":"b1","x":202486,"y":-4.79},{"s":"b1","x":202500,"y":-4.79},{"s":"b1","x":202510,"y":-4.94},{"s":"b1","x":202523,"y":-4.95},{"s":"b1","x":202533,"y":-5.04},{"s":"b1","x":202542,"y":-5.17},{"s":"b1","x":202551,"y":-5.18},{"s":"b1","x":202570,"y":-5.59},{"s":"b1","x":202611,"y":-5.6},{"s":"b1","x":202623,"y":-5.43},{"s":"b1","x":202634,"y":-5.43},{"s":"b1","x":202643,"y":-5.32},{"s":"b1","x":202669,"y":-5.32},{"s":"b1","x":202680,"y":-5.4},{"s":"b1","x":202689,"y":-5.23},{"s":"b1","x":202706,"y":-5.23},{"s":"b1","x":202715,"y":-5.12},{"s":"b1","x":202745,"y":-5.12},{"s":"b1","x":202754,"y":-5.4},{"s":"b1","x":202768,"y":-5.54},{"s":"b1","x":202800,"y":-5.55},{"s":"b1","x":202814,"y":-5.61},{"s":"b1","x":202828,"y":-5.62},{"s":"b1","x":202839,"y":-5.71},{"s":"b1","x":202851,"y":-5.85},{"s":"b1","x":202865,"y":-6.31},{"s":"b1","x":202897,"y":-6.31},{"s":"b1","x":202906,"y":-6.18},{"s":"b1","x":202915,"y":-6.16},{"s":"b1","x":202929,"y":-6.14},{"s":"b1","x":202948,"y":-6.13},{"s":"b1","x":202957,"y":-5.98},{"s":"b1","x":202963,"y":-5.98},{"s":"b1","x":202971,"y":-6.11},{"s":"b1","x":202985,"y":-6.11},{"s":"b1","x":202998,"y":-6.05},{"s":"b1","x":203012,"y":-5.96},{"s":"b1","x":203023,"y":-5.99},{"s":"b1","x":203035,"y":-5.97},{"s":"b1","x":203049,"y":-5.97},{"s":"b1","x":203063,"y":-5.9},{"s":"b1","x":203146,"y":-5.9},{"s":"b1","x":203155,"y":-4.5},{"s":"b1","x":203174,"y":-3.61},{"s":"b1","x":203204,"y":-3.61},{"s":"b1","x":203220,"y":-4.5},{"s":"b1","x":203229,"y":-5.51},{"s":"b1","x":203243,"y":-5.78},{"s":"b1","x":203261,"y":-5.99},{"s":"b1","x":203289,"y":-6.03},{"s":"b1","x":203317,"y":-6.02},{"s":"b1","x":203335,"y":-5.97},{"s":"b1","x":203346,"y":-5.91},{"s":"b1","x":203358,"y":-5.71},{"s":"b1","x":203372,"y":-5.71},{"s":"b1","x":203381,"y":-5.85},{"s":"b1","x":203390,"y":-6.04},{"s":"b1","x":203401,"y":-6.22},{"s":"b1","x":203418,"y":-6.25},{"s":"b1","x":203432,"y":-6.28},{"s":"b1","x":203441,"y":-6.4},{"s":"b1","x":203455,"y":-6.51},{"s":"b1","x":203471,"y":-6.65},{"s":"b1","x":203483,"y":-6.57},{"s":"b1","x":203492,"y":-6.48},{"s":"b1","x":203500,"y":-6.48},{"s":"b1","x":203503,"y":-6.14},{"s":"b1","x":203510,"y":-5.57},{"s":"b1","x":203519,"y":-5.4},{"s":"b1","x":203524,"y":-5.31},{"s":"b1","x":203547,"y":-5.31},{"s":"b1","x":203554,"y":-5.7},{"s":"b1","x":203565,"y":-5.82},{"s":"b1","x":203628,"y":-5.83},{"s":"b1","x":203639,"y":-5.61},{"s":"b1","x":203650,"y":-5.46},{"s":"b1","x":203660,"y":-5.12},{"s":"b1","x":203690,"y":-5.12},{"s":"b1","x":203707,"y":-5.16},{"s":"b1","x":203713,"y":-5.55},{"s":"b1","x":203722,"y":-5.81},{"s":"b1","x":203730,"y":-6.09},{"s":"b1","x":203755,"y":-6.09},{"s":"b1","x":203764,"y":-5.94},{"s":"b1","x":203779,"y":-5.54},{"s":"b1","x":203796,"y":-5.53},{"s":"b1","x":203810,"y":-5.4},{"s":"b1","x":203821,"y":-5.47},{"s":"b1","x":203833,"y":-5.44},{"s":"b1","x":203847,"y":-5.38},{"s":"b1","x":203861,"y":-5.4},{"s":"b1","x":203870,"y":-5.46},{"s":"b1","x":203879,"y":-5.77},{"s":"b1","x":203887,"y":-6.06},{"s":"b1","x":203933,"y":-6.06},{"s":"b1","x":203944,"y":-5.77},{"s":"b1","x":203953,"y":-5.54},{"s":"b1","x":203964,"y":-5.44},{"s":"b1","x":203976,"y":-5.36},{"s":"b1","x":203988,"y":-4.85},{"s":"b1","x":203999,"y":-4.78},{"s":"b1","x":204008,"y":-4.48},{"s":"b1","x":204035,"y":-4.47},{"s":"b1","x":204045,"y":-4.27},{"s":"b1","x":204052,"y":-4.26},{"s":"b1","x":204057,"y":-3.97},{"s":"b1","x":204068,"y":-3.97},{"s":"b1","x":204080,"y":-4.68},{"s":"b1","x":204091,"y":-5.24},{"s":"b1","x":204100,"y":-5.48},{"s":"b1","x":204114,"y":-5.55},{"s":"b1","x":204165,"y":-5.55},{"s":"b1","x":204172,"y":-5.64},{"s":"b1","x":204216,"y":-5.64},{"s":"b1","x":204230,"y":-5.5},{"s":"b1","x":204239,"y":-5.34},{"s":"b1","x":204248,"y":-5.46},{"s":"b1","x":204257,"y":-5.57},{"s":"b1","x":204271,"y":-5.68},{"s":"b1","x":204285,"y":-5.83},{"s":"b1","x":204308,"y":-5.83},{"s":"b1","x":204324,"y":-5.71},{"s":"b1","x":204345,"y":-5.71},{"s":"b1","x":204357,"y":-5.63},{"s":"b1","x":204370,"y":-5.63},{"s":"b1","x":204382,"y":-5.74},{"s":"b1","x":204391,"y":-5.81},{"s":"b1","x":204397,"y":-5.81},{"s":"b1","x":204405,"y":-6.17},{"s":"b1","x":204414,"y":-6.31},{"s":"b1","x":204434,"y":-6.31},{"s":"b1","x":204444,"y":-6.02},{"s":"b1","x":204451,"y":-5.88},{"s":"b1","x":204488,"y":-5.88},{"s":"b1","x":204502,"y":-6.1},{"s":"b1","x":204523,"y":-6.13},{"s":"b1","x":204539,"y":-6.13},{"s":"b1","x":204551,"y":-6.32},{"s":"b1","x":204563,"y":-6.32},{"s":"b1","x":204573,"y":-6.51},{"s":"b1","x":204597,"y":-6.51},{"s":"b1","x":204605,"y":-6.4},{"s":"b1","x":204612,"y":-5.98},{"s":"b1","x":204622,"y":-5.44},{"s":"b1","x":204628,"y":-5.0},{"s":"b1","x":204637,"y":-4.83},{"s":"b1","x":204645,"y":-4.83},{"s":"b1","x":204652,"y":-4.8},
{"s":"b2","x":199849,"y":-5.94},{"s":"b2","x":199866,"y":-5.63},{"s":"b2","x":199898,"y":-5.65},{"s":"b2","x":199912,"y":-5.36},{"s":"b2","x":199926,"y":-5.33},{"s":"b2","x":199937,"y":-5.17},{"s":"b2","x":199954,"y":-5.02},{"s":"b2","x":199977,"y":-4.97},{"s":"b2","x":200000,"y":-4.97},{"s":"b2","x":200009,"y":-5.08},{"s":"b2","x":200020,"y":-5.23},{"s":"b2","x":200037,"y":-5.42},{"s":"b2","x":200050,"y":-5.76},{"s":"b2","x":200064,"y":-5.83},{"s":"b2","x":200106,"y":-5.85},{"s":"b2","x":200120,"y":-5.88},{"s":"b2","x":200133,"y":-6.19},{"s":"b2","x":200143,"y":-6.37},{"s":"b2","x":200157,"y":-6.4},{"s":"b2","x":200180,"y":-6.4},{"s":"b2","x":200192,"y":-6.26},{"s":"b2","x":200203,"y":-6.03},{"s":"b2","x":200221,"y":-5.91},{"s":"b2","x":200235,"y":-5.88},{"s":"b2","x":200249,"y":-5.76},{"s":"b2","x":200272,"y":-5.79},{"s":"b2","x":200284,"y":-5.57},{"s":"b2","x":200295,"y":-4.86},{"s":"b2","x":200309,"y":-4.6},{"s":"b2","x":200369,"y":-4.57},{"s":"b2","x":200387,"y":-4.31},{"s":"b2","x":200424,"y":-4.29},{"s":"b2","x":200452,"y":-4.25},{"s":"b2","x":200461,"y":-3.32},{"s":"b2","x":200482,"y":-3.32},{"s":"b2","x":200489,"y":-3.66},{"s":"b2","x":200498,"y":-4.34},{"s":"b2","x":200504,"y":-4.52},{"s":"b2","x":200514,"y":-5.17},{"s":"b2","x":200525,"y":-5.42},{"s":"b2","x":200544,"y":-5.66},{"s":"b2","x":200562,"y":-5.72},{"s":"b2","x":200581,"y":-5.73},{"s":"b2","x":200596,"y":-5.59},{"s":"b2","x":200614,"y":-5.51},{"s":"b2","x":200623,"y":-5.0},{"s":"b2","x":200630,"y":-4.74},{"s":"b2","x":200660,"y":-4.74},{"s":"b2","x":200669,"y":-4.94},{"s":"b2","x":200679,"y":-5.33},{"s":"b2","x":200692,"y":-5.68},{"s":"b2","x":200702,"y":-5.86},{"s":"b2","x":200725,"y":-5.87},{"s":"b2","x":200743,"y":-5.94},{"s":"b2","x":200780,"y":-5.99},{"s":"b2","x":200799,"y":-5.94},{"s":"b2","x":200826,"y":-5.92},{"s":"b2","x":200854,"y":-5.94},{"s":"b2","x":200877,"y":-5.98},{"s":"b2","x":200891,"y":-6.31},{"s":"b2","x":200905,"y":-6.51},{"s":"b2","x":200926,"y":-6.52},{"s":"b2","x":200946,"y":-6.46},{"s":"b2","x":200955,"y":-6.27},{"s":"b2","x":200974,"y":-6.26},{"s":"b2","x":200997,"y":-6.04},{"s":"b2","x":201020,"y":-5.99},{"s":"b2","x":201038,"y":-5.72},{"s":"b2","x":201048,"y":-5.55},{"s":"b2","x":201075,"y":-5.55},{"s":"b2","x":201098,"y":-5.59},{"s":"b2","x":201131,"y":-5.58},{"s":"b2","x":201149,"y":-5.59},{"s":"b2","x":201168,"y":-5.77},{"s":"b2","x":201186,"y":-5.8},{"s":"b2","x":201214,"y":-5.8},{"s":"b2","x":201232,"y":-5.59},{"s":"b2","x":201246,"y":-5.2},{"s":"b2","x":201264,"y":-5.12},{"s":"b2","x":201292,"y":-5.09},{"s":"b2","x":201306,"y":-5.16},{"s":"b2","x":201320,"y":-5.33},{"s":"b2","x":201329,"y":-5.55},{"s":"b2","x":201343,"y":-5.74},{"s":"b2","x":201361,"y":-5.88},{"s":"b2","x":201389,"y":-5.94},{"s":"b2","x":201407,"y":-6.04},{"s":"b2","x":201426,"y":-6.24},{"s":"b2","x":201444,"y":-6.48},{"s":"b2","x":201476,"y":-6.48},{"s":"b2","x":201490,"y":-6.42},{"s":"b2","x":201499,"y":-6.24},{"s":"b2","x":201509,"y":-5.98},{"s":"b2","x":201518,"y":-5.83},{"s":"b2","x":201546,"y":-5.83},{"s":"b2","x":201564,"y":-6.18},{"s":"b2","x":201587,"y":-6.22},{"s":"b2","x":201610,"y":-6.33},{"s":"b2","x":201638,"y":-6.39},{"s":"b2","x":201656,"y":-6.41},{"s":"b2","x":201679,"y":-6.37},{"s":"b2","x":201702,"y":-6.33},{"s":"b2","x":201716,"y":-6.27},{"s":"b2","x":201739,"y":-6.14},{"s":"b2","x":201758,"y":-6.09},{"s":"b2","x":201776,"y":-5.98},{"s":"b2","x":201790,"y":-5.77},{"s":"b2","x":201799,"y":-5.55},{"s":"b2","x":201813,"y":-5.33},{"s":"b2","x":201827,"y":-5.21},{"s":"b2","x":201864,"y":-5.21},{"s":"b2","x":201870,"y":-5.42},{"s":"b2","x":201876,"y":-5.77},{"s":"b2","x":201880,"y":-6.18},{"s":"b2","x":201905,"y":-6.19},{"s":"b2","x":201919,"y":-6.11},{"s":"b2","x":201928,"y":-5.94},{"s":"b2","x":201942,"y":-5.92},{"s":"b2","x":201961,"y":-6.03},{"s":"b2","x":201979,"y":-6.14},{"s":"b2","x":201993,"y":-6.31},{"s":"b2","x":202053,"y":-6.32},{"s":"b2","x":202067,"y":-6.27},{"s":"b2","x":202076,"y":-6.14},{"s":"b2","x":202090,"y":-6.06},{"s":"b2","x":202113,"y":-6.0},{"s":"b2","x":202154,"y":-6.0},{"s":"b2","x":202168,"y":-5.92},{"s":"b2","x":202182,"y":-5.68},{"s":"b2","x":202219,"y":-5.68},{"s":"b2","x":202237,"y":-5.55},{"s":"b2","x":202256,"y":-5.24},{"s":"b2","x":202270,"y":-4.98},{"s":"b2","x":202279,"y":-4.96},{"s":"b2","x":202311,"y":-4.96},{"s":"b2","x":202320,"y":-5.24},{"s":"b2","x":202330,"y":-5.55},{"s":"b2","x":202348,"y":-5.56},{"s":"b2","x":202357,"y":-5.71},{"s":"b2","x":202367,"y":-5.71},{"s":"b2","x":202380,"y":-5.44},{"s":"b2","x":202394,"y":-5.33},{"s":"b2","x":202408,"y":-5.35},{"s":"b2","x":202414,"y":-5.59},{"s":"b2","x":202420,"y":-6.19},{"s":"b2","x":202438,"y":-6.2},{"s":"b2","x":202448,"y":-5.81},{"s":"b2","x":202459,"y":-5.64},{"s":"b2","x":202500,"y":-5.64},{"s":"b2","x":202510,"y":-5.35},{"s":"b2","x":202533,"y":-5.33},{"s":"b2","x":202556,"y":-5.31},{"s":"b2","x":202574,"y":-5.35},{"s":"b2","x":202593,"y":-5.31},{"s":"b2","x":202616,"y":-5.33},{"s":"b2","x":202630,"y":-5.49},{"s":"b2","x":202643,"y":-5.73},{"s":"b2","x":202654,"y":-6.07},{"s":"b2","x":202662,"y":-6.1},{"s":"b2","x":202694,"y":-6.09},{"s":"b2","x":202712,"y":-6.0},{"s":"b2","x":202736,"y":-5.91},{"s":"b2","x":202745,"y":-5.82},{"s":"b2","x":202800,"y":-5.82},{"s":"b2","x":202819,"y":-5.85},{"s":"b2","x":202832,"y":-6.03},{"s":"b2","x":202842,"y":-6.12},{"s":"b2","x":202865,"y":-6.13},{"s":"b2","x":202883,"y":-6.07},{"s":"b2","x":202911,"y":-5.99},{"s":"b2","x":202938,"y":-5.96},{"s":"b2","x":202957,"y":-5.8},{"s":"b2","x":202975,"y":-5.65},{"s":"b2","x":203012,"y":-5.65},{"s":"b2","x":203049,"y":-5.62},{"s":"b2","x":203068,"y":-5.62},{"s":"b2","x":203086,"y":-5.71},{"s":"b2","x":203104,"y":-5.89},{"s":"b2","x":203121,"y":-6.18},{"s":"b2","x":203132,"y":-6.52},{"s":"b2","x":203139,"y":-6.77},{"s":"b2","x":203169,"y":-6.77},{"s":"b2","x":203178,"y":-6.52},{"s":"b2","x":203187,"y":-6.07},{"s":"b2","x":203192,"y":-5.4},{"s":"b2","x":203197,"y":-5.15},{"s":"b2","x":203215,"y":-5.07},{"s":"b2","x":203229,"y":-5.06},{"s":"b2","x":203238,"y":-5.4},{"s":"b2","x":203247,"y":-5.64},{"s":"b2","x":203261,"y":-5.98},{"s":"b2","x":203280,"y":-6.12},{"s":"b2","x":203317,"y":-6.14},{"s":"b2","x":203340,"y":-6.08},{"s":"b2","x":203358,"y":-6.12},{"s":"b2","x":203372,"y":-6.3},{"s":"b2","x":203381,"y":-6.41},{"s":"b2","x":203390,"y":-6.32},{"s":"b2","x":203404,"y":-6.15},{"s":"b2","x":203418,"y":-6.05},{"s":"b2","x":203441,"y":-5.94},{"s":"b2","x":203450,"y":-5.9},{"s":"b2","x":203464,"y":-6.2},{"s":"b2","x":203473,"y":-6.35},{"s":"b2","x":203483,"y":-6.27},{"s":"b2","x":203492,"y":-6.09},{"s":"b2","x":203519,"y":-6.14},{"s":"b2","x":203542,"y":-6.14},{"s":"b2","x":203556,"y":-6.07},{"s":"b2","x":203565,"y":-5.99},{"s":"b2","x":203649,"y":-5.98},{"s":"b2","x":203658,"y":-5.88},{"s":"b2","x":203667,"y":-5.79},{"s":"b2","x":203695,"y":-5.82},{"s":"b2","x":203708,"y":-5.85},{"s":"b2","x":203715,"y":-6.01},{"s":"b2","x":203722,"y":-6.12},{"s":"b2","x":203759,"y":-6.12},{"s":"b2","x":203768,"y":-6.03},{"s":"b2","x":203815,"y":-6.03},{"s":"b2","x":203833,"y":-6.09},{"s":"b2","x":203856,"y":-6.09},{"s":"b2","x":203870,"y":-5.98},{"s":"b2","x":203884,"y":-5.81},{"s":"b2","x":203898,"y":-5.55},{"s":"b2","x":203911,"y":-5.42},{"s":"b2","x":203930,"y":-5.34},{"s":"b2","x":203953,"y":-5.27},{"s":"b2","x":203967,"y":-5.16},{"s":"b2","x":203981,"y":-5.03},{"s":"b2","x":203994,"y":-4.94},{"s":"b2","x":204008,"y":-4.79},{"s":"b2","x":204027,"y":-4.64},{"s":"b2","x":204045,"y":-4.66},{"s":"b2","x":204056,"y":-4.81},{"s":"b2","x":204064,"y":-5.11},{"s":"b2","x":204077,"y":-5.33},{"s":"b2","x":204091,"y":-5.46},{"s":"b2","x":204110,"y":-5.55},{"s":"b2","x":204124,"y":-5.72},{"s":"b2","x":204133,"y":-6.2},{"s":"b2","x":204147,"y":-6.46},{"s":"b2","x":204156,"y":-6.51},{"s":"b2","x":204174,"y":-6.51},{"s":"b2","x":204183,"y":-6.42},{"s":"b2","x":204193,"y":-6.09},{"s":"b2","x":204202,"y":-5.77},{"s":"b2","x":204211,"y":-5.55},{"s":"b2","x":204218,"y":-5.29},{"s":"b2","x":204230,"y":-5.22},{"s":"b2","x":204266,"y":-5.23},{"s":"b2","x":204271,"y":-5.44},{"s":"b2","x":204280,"y":-5.77},{"s":"b2","x":204289,"y":-6.09},{"s":"b2","x":204303,"y":-6.25},{"s":"b2","x":204311,"y":-6.05},{"s":"b2","x":204324,"y":-6.02},{"s":"b2","x":204340,"y":-6.11},{"s":"b2","x":204359,"y":-6.22},{"s":"b2","x":204377,"y":-6.27},{"s":"b2","x":204400,"y":-6.2},{"s":"b2","x":204414,"y":-6.12},{"s":"b2","x":204437,"y":-6.09},{"s":"b2","x":204456,"y":-6.15},{"s":"b2","x":204474,"y":-6.2},{"s":"b2","x":204492,"y":-6.16},{"s":"b2","x":204506,"y":-5.98},{"s":"b2","x":204525,"y":-5.9},{"s":"b2","x":204543,"y":-5.77},{"s":"b2","x":204571,"y":-5.77},{"s":"b2","x":204589,"y":-5.74},{"s":"b2","x":204603,"y":-5.67},{"s":"b2","x":204622,"y":-5.67},{"s":"b2","x":204635,"y":-5.44},{"s":"b2","x":204649,"y":-5.29},
{"s":"b3","x":199849,"y":-5.85},{"s":"b3","x":199861,"y":-5.82},{"s":"b3","x":199871,"y":-6.03},{"s":"b3","x":199894,"y":-6.09},{"s":"b3","x":199908,"y":-6.13},{"s":"b3","x":199917,"y":-5.97},{"s":"b3","x":199926,"y":-5.57},{"s":"b3","x":199944,"y":-5.26},{"s":"b3","x":199958,"y":-5.19},{"s":"b3","x":199977,"y":-5.11},{"s":"b3","x":199990,"y":-5.09},{"s":"b3","x":200004,"y":-5.11},{"s":"b3","x":200009,"y":-5.26},{"s":"b3","x":200027,"y":-5.48},{"s":"b3","x":200046,"y":-5.63},{"s":"b3","x":200074,"y":-5.63},{"s":"b3","x":200092,"y":-5.52},{"s":"b3","x":200115,"y":-5.51},{"s":"b3","x":200138,"y":-5.68},{"s":"b3","x":200152,"y":-6.08},{"s":"b3","x":200166,"y":-6.19},{"s":"b3","x":200193,"y":-6.19},{"s":"b3","x":200212,"y":-6.06},{"s":"b3","x":200235,"y":-5.79},{"s":"b3","x":200249,"y":-5.48},{"s":"b3","x":200256,"y":-4.88},{"s":"b3","x":200272,"y":-4.86},{"s":"b3","x":200284,"y":-4.82},{"s":"b3","x":200295,"y":-3.91},{"s":"b3","x":200313,"y":-3.34},{"s":"b3","x":200346,"y":-3.32},{"s":"b3","x":200369,"y":-3.26},{"s":"b3","x":200376,"y":-2.68},{"s":"b3","x":200396,"y":-2.51},{"s":"b3","x":200410,"y":-2.31},{"s":"b3","x":200424,"y":-2.12},{"s":"b3","x":200436,"y":-2.11},{"s":"b3","x":200482,"y":-2.11},{"s":"b3","x":200489,"y":-2.28},{"s":"b3","x":200493,"y":-3.32},{"s":"b3","x":200502,"y":-4.52},{"s":"b3","x":200509,"y":-4.6},{"s":"b3","x":200516,"y":-5.02},{"s":"b3","x":200544,"y":-5.02},{"s":"b3","x":200553,"y":-5.26},{"s":"b3","x":200572,"y":-5.57},{"s":"b3","x":200590,"y":-5.63},{"s":"b3","x":200600,"y":-5.59},{"s":"b3","x":200610,"y":-5.51},{"s":"b3","x":200619,"y":-5.24},{"s":"b3","x":200628,"y":-5.16},{"s":"b3","x":200665,"y":-5.16},{"s":"b3","x":200674,"y":-5.27},{"s":"b3","x":200683,"y":-5.55},{"s":"b3","x":200706,"y":-5.59},{"s":"b3","x":200725,"y":-5.55},{"s":"b3","x":200739,"y":-5.33},{"s":"b3","x":200752,"y":-5.3},{"s":"b3","x":200776,"y":-5.3},{"s":"b3","x":200791,"y":-5.4},{"s":"b3","x":200803,"y":-5.51},{"s":"b3","x":200840,"y":-5.52},{"s":"b3","x":200859,"y":-5.59},{"s":"b3","x":200877,"y":-5.68},{"s":"b3","x":200891,"y":-5.92},{"s":"b3","x":200909,"y":-6.03},{"s":"b3","x":200928,"y":-6.08},{"s":"b3","x":200946,"y":-6.09},{"s":"b3","x":200965,"y":-6.05},{"s":"b3","x":200992,"y":-6.04},{"s":"b3","x":201015,"y":-6.01},{"s":"b3","x":201029,"y":-5.88},{"s":"b3","x":201043,"y":-5.55},{"s":"b3","x":201052,"y":-5.36},{"s":"b3","x":201089,"y":-5.35},{"s":"b3","x":201098,"y":-5.5},{"s":"b3","x":201108,"y":-5.64},{"s":"b3","x":201121,"y":-5.7},{"s":"b3","x":201144,"y":-5.73},{"s":"b3","x":201168,"y":-5.79},{"s":"b3","x":201186,"y":-5.8},{"s":"b3","x":201214,"y":-5.8},{"s":"b3","x":201232,"y":-5.88},{"s":"b3","x":201251,"y":-5.87},{"s":"b3","x":201269,"y":-5.55},{"s":"b3","x":201283,"y":-5.18},{"s":"b3","x":201297,"y":-5.16},{"s":"b3","x":201306,"y":-5.24},{"s":"b3","x":201315,"y":-5.44},{"s":"b3","x":201329,"y":-5.68},{"s":"b3","x":201343,"y":-5.83},{"s":"b3","x":201361,"y":-5.9},{"s":"b3","x":201380,"y":-5.85},{"s":"b3","x":201403,"y":-5.83},{"s":"b3","x":201421,"y":-5.88},{"s":"b3","x":201440,"y":-6.05},{"s":"b3","x":201463,"y":-6.16},{"s":"b3","x":201481,"y":-6.03},{"s":"b3","x":201490,"y":-5.66},{"s":"b3","x":201495,"y":-5.56},{"s":"b3","x":201532,"y":-5.56},{"s":"b3","x":201541,"y":-5.77},{"s":"b3","x":201555,"y":-5.84},{"s":"b3","x":201583,"y":-5.88},{"s":"b3","x":201601,"y":-5.92},{"s":"b3","x":201615,"y":-6.11},{"s":"b3","x":201629,"y":-6.33},{"s":"b3","x":201652,"y":-6.41},{"s":"b3","x":201664,"y":-6.56},{"s":"b3","x":201677,"y":-6.62},{"s":"b3","x":201698,"y":-6.62},{"s":"b3","x":201707,"y":-6.53},{"s":"b3","x":201719,"y":-6.35},{"s":"b3","x":201735,"y":-6.2},{"s":"b3","x":201749,"y":-6.1},{"s":"b3","x":201767,"y":-5.98},{"s":"b3","x":201785,"y":-5.89},{"s":"b3","x":201804,"y":-5.84},{"s":"b3","x":201832,"y":-5.83},{"s":"b3","x":201850,"y":-5.9},{"s":"b3","x":201864,"y":-6.07},{"s":"b3","x":201882,"y":-6.18},{"s":"b3","x":201905,"y":-6.18},{"s":"b3","x":201924,"y":-6.07},{"s":"b3","x":201942,"y":-5.97},{"s":"b3","x":201961,"y":-5.95},{"s":"b3","x":201979,"y":-6.03},{"s":"b3","x":201998,"y":-6.18},{"s":"b3","x":202016,"y":-6.25},{"s":"b3","x":202034,"y":-6.2},{"s":"b3","x":202058,"y":-6.08},{"s":"b3","x":202076,"y":-6.04},{"s":"b3","x":202094,"y":-5.94},{"s":"b3","x":202113,"y":-5.97},{"s":"b3","x":202136,"y":-5.99},{"s":"b3","x":202159,"y":-5.94},{"s":"b3","x":202182,"y":-5.89},{"s":"b3","x":202196,"y":-5.68},{"s":"b3","x":202205,"y":-5.33},{"s":"b3","x":202214,"y":-4.9},{"s":"b3","x":202226,"y":-4.69},{"s":"b3","x":202242,"y":-4.68},{"s":"b3","x":202251,"y":-4.79},{"s":"b3","x":202259,"y":-5.11},{"s":"b3","x":202267,"y":-5.55},{"s":"b3","x":202276,"y":-5.81},{"s":"b3","x":202288,"y":-5.77},{"s":"b3","x":202302,"y":-5.59},{"s":"b3","x":202320,"y":-5.55},{"s":"b3","x":202343,"y":-5.55},{"s":"b3","x":202362,"y":-5.44},{"s":"b3","x":202380,"y":-5.33},{"s":"b3","x":202394,"y":-5.24},{"s":"b3","x":202403,"y":-4.9},{"s":"b3","x":202411,"y":-4.57},{"s":"b3","x":202426,"y":-4.56},{"s":"b3","x":202436,"y":-4.68},{"s":"b3","x":202445,"y":-5.0},{"s":"b3","x":202454,"y":-5.33},{"s":"b3","x":202466,"y":-5.6},{"s":"b3","x":202477,"y":-5.62},{"s":"b3","x":202496,"y":-5.35},{"s":"b3","x":202510,"y":-5.15},{"s":"b3","x":202523,"y":-5.15},{"s":"b3","x":202542,"y":-5.24},{"s":"b3","x":202556,"y":-5.35},{"s":"b3","x":202570,"y":-5.76},{"s":"b3","x":202579,"y":-5.85},{"s":"b3","x":202611,"y":-5.85},{"s":"b3","x":202625,"y":-5.62},{"s":"b3","x":202639,"y":-5.51},{"s":"b3","x":202689,"y":-5.51},{"s":"b3","x":202708,"y":-5.55},{"s":"b3","x":202722,"y":-5.76},{"s":"b3","x":202736,"y":-5.81},{"s":"b3","x":202772,"y":-5.81},{"s":"b3","x":202795,"y":-5.76},{"s":"b3","x":202807,"y":-5.35},{"s":"b3","x":202820,"y":-5.33},{"s":"b3","x":202832,"y":-5.4},{"s":"b3","x":202846,"y":-5.62},{"s":"b3","x":202865,"y":-5.91},{"s":"b3","x":202892,"y":-5.94},{"s":"b3","x":202920,"y":-5.91},{"s":"b3","x":202948,"y":-5.9},{"s":"b3","x":202961,"y":-5.87},{"s":"b3","x":202975,"y":-5.65},{"s":"b3","x":203003,"y":-5.65},{"s":"b3","x":203031,"y":-5.67},{"s":"b3","x":203049,"y":-5.73},{"s":"b3","x":203068,"y":-5.67},{"s":"b3","x":203095,"y":-5.64},{"s":"b3","x":203123,"y":-5.62},{"s":"b3","x":203141,"y":-5.46},{"s":"b3","x":203160,"y":-5.36},{"s":"b3","x":203187,"y":-5.4},{"s":"b3","x":203197,"y":-5.58},{"s":"b3","x":203206,"y":-5.85},{"s":"b3","x":203234,"y":-5.94},{"s":"b3","x":203261,"y":-6.05},{"s":"b3","x":203289,"y":-6.12},{"s":"b3","x":203326,"y":-6.16},{"s":"b3","x":203344,"y":-6.2},{"s":"b3","x":203363,"y":-6.43},{"s":"b3","x":203376,"y":-6.45},{"s":"b3","x":203390,"y":-6.36},{"s":"b3","x":203404,"y":-6.12},{"s":"b3","x":203413,"y":-5.64},{"s":"b3","x":203420,"y":-5.45},{"s":"b3","x":203441,"y":-5.42},{"s":"b3","x":203447,"y":-5.11},{"s":"b3","x":203452,"y":-4.46},{"s":"b3","x":203457,"y":-3.92},{"s":"b3","x":203464,"y":-3.61},{"s":"b3","x":203483,"y":-3.57},{"s":"b3","x":203494,"y":-3.6},{"s":"b3","x":203501,"y":-3.81},{"s":"b3","x":203508,"y":-4.13},{"s":"b3","x":203518,"y":-4.4},{"s":"b3","x":203529,"y":-4.55},{"s":"b3","x":203536,"y":-4.9},{"s":"b3","x":203545,"y":-5.27},{"s":"b3","x":203554,"y":-5.53},{"s":"b3","x":203570,"y":-5.66},{"s":"b3","x":203593,"y":-5.74},{"s":"b3","x":203621,"y":-5.77},{"s":"b3","x":203644,"y":-5.64},{"s":"b3","x":203667,"y":-5.61},{"s":"b3","x":203695,"y":-5.64},{"s":"b3","x":203722,"y":-5.68},{"s":"b3","x":203750,"y":-5.79},{"s":"b3","x":203778,"y":-5.88},{"s":"b3","x":203805,"y":-5.94},{"s":"b3","x":203833,"y":-6.01},{"s":"b3","x":203861,"y":-6.07},{"s":"b3","x":203888,"y":-6.16},{"s":"b3","x":203916,"y":-6.18},{"s":"b3","x":203934,"y":-6.13},{"s":"b3","x":203953,"y":-5.98},{"s":"b3","x":203976,"y":-5.81},{"s":"b3","x":203990,"y":-5.55},{"s":"b3","x":204001,"y":-5.11},{"s":"b3","x":204013,"y":-4.94},{"s":"b3","x":204031,"y":-4.92},{"s":"b3","x":204050,"y":-4.99},{"s":"b3","x":204062,"y":-5.11},{"s":"b3","x":204073,"y":-5.31},{"s":"b3","x":204091,"y":-5.51},{"s":"b3","x":204108,"y":-5.79},{"s":"b3","x":204124,"y":-6.03},{"s":"b3","x":204142,"y":-6.25},{"s":"b3","x":204161,"y":-6.38},{"s":"b3","x":204184,"y":-6.39},{"s":"b3","x":204207,"y":-6.41},{"s":"b3","x":204230,"y":-6.45},{"s":"b3","x":204253,"y":-6.46},{"s":"b3","x":204276,"y":-6.4},{"s":"b3","x":204285,"y":-6.38},{"s":"b3","x":204299,"y":-6.29},{"s":"b3","x":204313,"y":-6.16},{"s":"b3","x":204322,"y":-6.03},{"s":"b3","x":204340,"y":-6.03},{"s":"b3","x":204359,"y":-6.18},{"s":"b3","x":204373,"y":-6.27},{"s":"b3","x":204386,"y":-6.2},{"s":"b3","x":204405,"y":-6.18},{"s":"b3","x":204419,"y":-6.11},{"s":"b3","x":204428,"y":-5.55},{"s":"b3","x":204446,"y":-5.52},{"s":"b3","x":204469,"y":-5.48},{"s":"b3","x":204483,"y":-5.44},{"s":"b3","x":204497,"y":-5.53},{"s":"b3","x":204511,"y":-5.68},{"s":"b3","x":204525,"y":-5.83},{"s":"b3","x":204539,"y":-5.94},{"s":"b3","x":204557,"y":-5.79},{"s":"b3","x":204575,"y":-5.77},{"s":"b3","x":204589,"y":-5.37},{"s":"b3","x":204608,"y":-5.31},{"s":"b3","x":204615,"y":-5.03},{"s":"b3","x":204631,"y":-5.03},{"s":"b3","x":204640,"y":-5.16},{"s":"b3","x":204652,"y":-5.29}
]},
"mark":{"type":"line","strokeWidth":2.6,"strokeJoin":"round"},
"encoding":{
"x":{"field":"x","type":"quantitative","scale":{"domain":[199658.5,204841.2],"nice":false,"zero":false},"axis":{"values":[200000,201000,202000,203000,204000],"format":"d","title":"position (dashed lines in steps of 50)"}},
"y":{"field":"y","type":"quantitative","scale":{"domain":[-7.24,-0.76],"nice":false,"zero":false},"axis":{"values":[-7,-6,-5,-4,-3,-2,-1],"title":"log2 expression"}},
"color":{"field":"s","type":"nominal","scale":{"domain":["r1","r2","r3","b1","b2","b3"],"range":["#ff0000","#ff0000","#ff0000","#0000ff","#0000ff","#0000ff"]},"legend":null},
"strokeDash":{"field":"s","type":"nominal","scale":{"domain":["r1","r2","r3","b1","b2","b3"],"range":[[1,0],[10,10],[3,8,10,8],[1,0],[10,10],[3,8,10,8]]},"legend":null}
}},
{"data":{"values":[{"x":200375,"y":-7,"t":"−−>"}]},
"mark":{"type":"text","fontSize":31,"font":"Liberation Sans","align":"center","baseline":"middle","color":"black"},
"encoding":{"x":{"field":"x","type":"quantitative","scale":{"domain":[199658.5,204841.2],"nice":false,"zero":false},"axis":{"values":[200000,201000,202000,203000,204000],"format":"d","title":"position (dashed lines in steps of 50)"}},"y":{"field":"y","type":"quantitative","scale":{"domain":[-7.24,-0.76],"nice":false,"zero":false},"axis":{"values":[-7,-6,-5,-4,-3,-2,-1],"title":"log2 expression"}},"text":{"field":"t"}}},
{"data":{"values":[{"y":-0.76}]},
"mark":{"type":"rule","color":"black","strokeWidth":2},
"encoding":{"y":{"field":"y","type":"quantitative","scale":{"domain":[-7.24,-0.76],"nice":false,"zero":false},"axis":{"values":[-7,-6,-5,-4,-3,-2,-1],"title":"log2 expression"}}}}
]
}
